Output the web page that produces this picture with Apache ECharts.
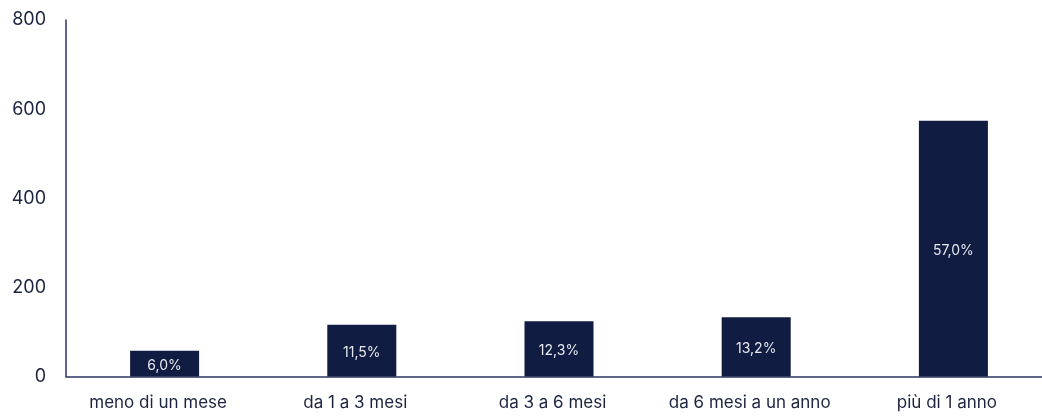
<!DOCTYPE html>
<html><head><meta charset="utf-8">
<script src="https://cdn.jsdelivr.net/npm/echarts@6/dist/echarts.min.js"></script>
<style>html,body{margin:0;padding:0;background:#fff}#c{width:1042px;height:416px}</style>
</head><body><div id="c"></div>
<script>
const categories = ["meno di un mese", "da 1 a 3 mesi", "da 3 a 6 mesi", "da 6 mesi a un anno", "più di 1 anno"];
const values = [58, 116, 124, 133, 574];
const shareLabels = ["6,0%", "11,5%", "12,3%", "13,2%", "57,0%"];
const yTicks = [0, 200, 400, 600, 800];

const chart = echarts.init(document.getElementById('c'), null, {renderer: 'canvas'});
chart.setOption({
  animation: false,
  textStyle: {fontFamily: 'Inter'},
  grid: {left: 66, width: 986, top: 20, bottom: 39.5, containLabel: false, outerBoundsMode: 'none'},
  xAxis: {
    type: 'category', data: categories, boundaryGap: true,
    axisLine: {lineStyle: {color: '#2b3560', width: 1.5}},
    axisTick: {show: false},
    axisLabel: {color: '#1c2440', fontSize: 17, margin: 18, interval: 0, hideOverlap: false,
                padding: [0, 13, 0, 0], fontFamily: 'Inter'}
  },
  yAxis: {
    type: 'value', min: yTicks[0], max: yTicks[yTicks.length - 1], interval: 200,
    axisLine: {show: true, lineStyle: {color: '#2b3560', width: 1.5}},
    axisTick: {show: false},
    splitLine: {show: false},
    axisLabel: {color: '#1c2440', fontSize: 18, margin: 20, fontFamily: 'Inter'}
  },
  series: [{
    type: 'bar', data: values, barWidth: '35%',
    itemStyle: {color: '#111c42'},
    label: {
      show: true, position: 'inside', offset: [0, 2],
      color: '#e6e8ee', fontSize: 14, fontFamily: 'Inter',
      formatter: p => shareLabels[p.dataIndex]
    }
  }]
});
</script></body></html>
